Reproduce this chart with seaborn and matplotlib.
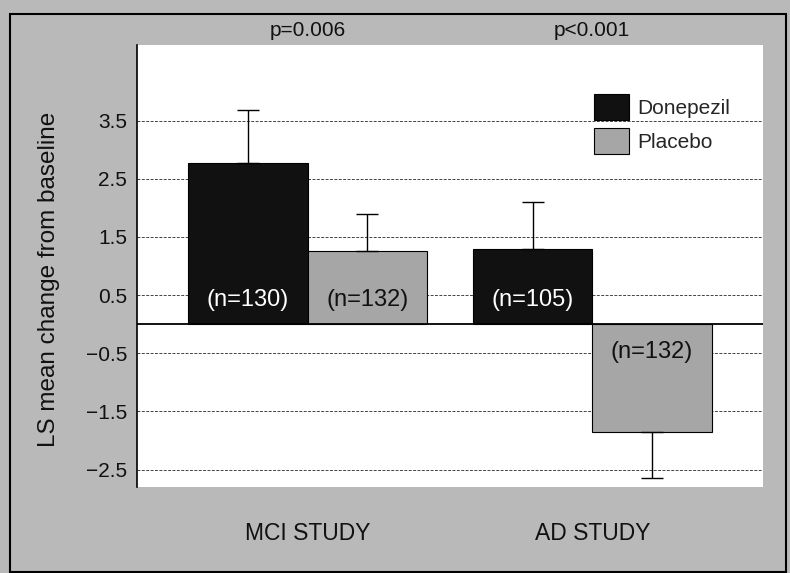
import matplotlib
matplotlib.use("Agg")
import matplotlib.pyplot as plt
import numpy as np
import pandas as pd
import seaborn as sns
from matplotlib.patches import Rectangle
from matplotlib.transforms import blended_transform_factory

# values
studies = ["MCI STUDY", "AD STUDY"]
groups = ["Donepezil", "Placebo"]
donepezil_mean = [2.78, 1.29]
placebo_mean = [1.26, -1.85]
donepezil_se = [0.90, 0.81]
placebo_se = [0.64, 0.79]
donepezil_n = [130, 105]
placebo_n = [132, 132]
p_values = ["p=0.006", "p<0.001"]
yticks = [-2.5, -1.5, -0.5, 0.5, 1.5, 2.5, 3.5]

colors = {"Donepezil": "#111111", "Placebo": "#a6a6a6"}
text_colors = {"Donepezil": "white", "Placebo": "#111111"}

df = pd.DataFrame({
    "study": studies * 2,
    "group": ["Donepezil"] * 2 + ["Placebo"] * 2,
    "mean": donepezil_mean + placebo_mean,
})

sns.set_style("white")
plt.rcParams["font.family"] = ["Liberation Sans", "DejaVu Sans"]

fig = plt.figure(figsize=(7.9, 5.73), dpi=100, facecolor="#b9b9b9")
ax = fig.add_axes([0.1734, 0.150, 0.7924, 0.7714])
ax.set_facecolor("white")

sns.barplot(data=df, x="study", y="mean", hue="group", order=studies,
            hue_order=groups, palette=colors, width=0.84, errorbar=None,
            edgecolor="black", linewidth=0.8, saturation=1, ax=ax, zorder=3)

# one-sided error bars and n labels
for grp, container, se, ns in zip(groups, ax.containers,
                                  [donepezil_se, placebo_se],
                                  [donepezil_n, placebo_n]):
    means = df[df["group"] == grp]["mean"].tolist()
    for bar, m, s, n in zip(container, means, se, ns):
        x = bar.get_x() + bar.get_width() / 2
        yerr = [[0], [s]] if m > 0 else [[s], [0]]
        ax.errorbar(x, m, yerr=yerr, fmt="none", ecolor="black",
                    elinewidth=1.0, capsize=8, capthick=1.0, zorder=4)
        ty = 0.42 if m > 0 else -0.48
        ax.text(x, ty, f"(n={n})", ha="center", va="center", fontsize=17,
                color=text_colors[grp], zorder=5)

ax.axhline(0, color="black", lw=1.3, zorder=3.5)
ax.set_xlim(-0.6, 1.6)
ax.set_ylim(-2.8, 4.8)
ax.set_yticks(yticks)
ax.yaxis.grid(True, linestyle=(0, (3, 1.5)), color="#444444", lw=0.7)
ax.set_axisbelow(True)

for side in ["top", "right", "bottom"]:
    ax.spines[side].set_visible(False)
ax.spines["left"].set_color("black")
ax.spines["left"].set_linewidth(1.2)

ax.tick_params(axis="x", length=0, pad=25, labelsize=16.5, labelcolor="#111111")
ax.tick_params(axis="y", direction="out", length=5, width=0.8, color="black",
               labelsize=15, pad=2, labelcolor="#111111")
ax.set_xlabel("")
ax.set_ylabel("LS mean change from baseline", fontsize=17.5, color="#111111")
ax.yaxis.set_label_coords(-0.123, 0.47)

trans = blended_transform_factory(ax.transData, ax.transAxes)
for i, p in enumerate(p_values):
    ax.text(i, 1 + 15 / 442, p, transform=trans, ha="center", va="center",
            fontsize=15, color="#111111")

ax.legend(loc="upper left", bbox_to_anchor=(0.730, 0.890), frameon=False,
          fontsize=15, handlelength=1.7, handleheight=1.6, labelspacing=0.35,
          handletextpad=0.4, borderpad=0, borderaxespad=0)

fig.add_artist(Rectangle((10 / 790, 0.002), 776 / 790, 558 / 573,
                         transform=fig.transFigure, fill=False,
                         ec="black", lw=1.5))

fig.savefig("out.png", dpi=100, facecolor=fig.get_facecolor())
